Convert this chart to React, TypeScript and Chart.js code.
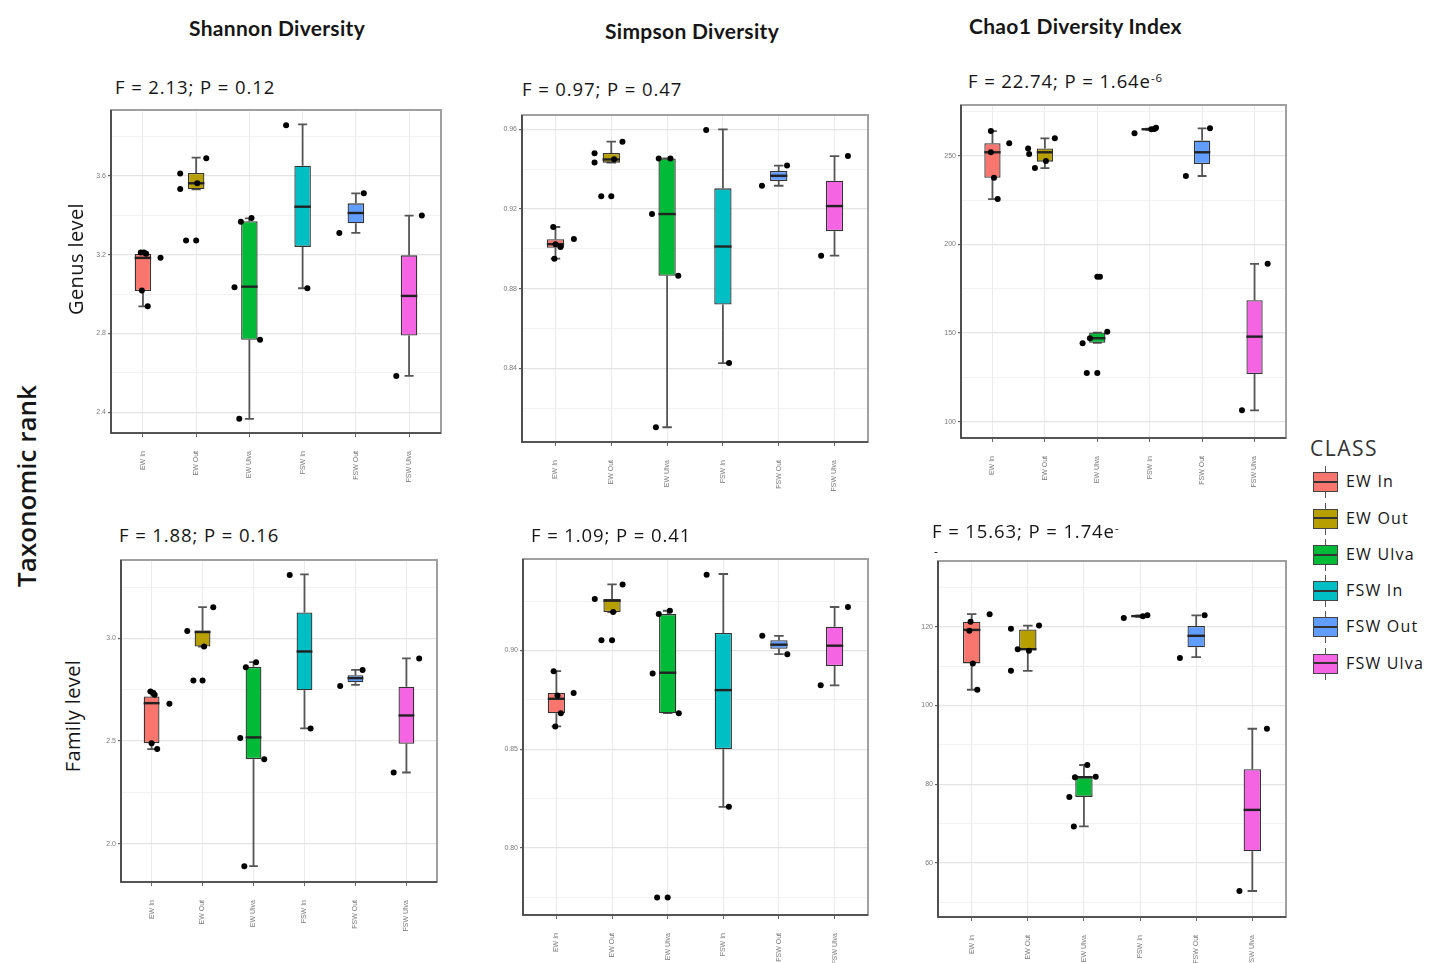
import React, { useEffect, useRef } from 'react';
import { Chart, registerables } from 'chart.js';

Chart.register(...registerables);

// ---------- shared categories ----------
const CLASSES = ['EW In', 'EW Out', 'EW Ulva', 'FSW In', 'FSW Out', 'FSW Ulva'];
const CLASS_COLORS = ['#F8766D', '#B79F00', '#00BA38', '#00BFC4', '#619CFF', '#F564E3'];

// ---------- text ----------
const COLUMN_TITLES = ['Shannon Diversity', 'Simpson Diversity', 'Chao1 Diversity Index'];
const ROW_TITLES = ['Genus level', 'Family level'];
const SIDE_TITLE = 'Taxonomic rank';
const LEGEND_TITLE = 'CLASS';

// ---------- Shannon, genus ----------
const shannonGenusQ1 = [3.016, 3.532, 2.768, 3.24, 3.36, 2.79];
const shannonGenusMedian = [3.184, 3.563, 3.038, 3.444, 3.412, 2.991];
const shannonGenusQ3 = [3.204, 3.615, 3.37, 3.652, 3.461, 3.197];
const shannonGenusLow = [2.938, 3.532, 2.367, 3.03, 3.311, 2.585];
const shannonGenusHigh = [3.21, 3.693, 3.385, 3.862, 3.512, 3.399];
const shannonGenusPoints = [
  [3.212, 3.211, 3.205, 3.185, 3.018, 2.938],
  [3.612, 3.534, 3.563, 3.69, 3.272, 3.272],
  [3.368, 3.387, 3.035, 2.768, 2.367],
  [3.857, 3.03],
  [3.311, 3.512],
  [2.585, 3.399],
];
const shannonGenusJitter = [
  [-0.04, 0.02, 0.06, 0.33, -0.02, 0.09],
  [-0.3, -0.3, 0.02, 0.19, -0.19, 0],
  [-0.16, 0.04, -0.28, 0.2, -0.19],
  [-0.31, 0.09],
  [-0.31, 0.15],
  [-0.24, 0.24],
];
const shannonGenusMajor = [2.4, 2.8, 3.2, 3.6];
const shannonGenusMinor = [2.6, 3.0, 3.4, 3.8];
const shannonGenusStat = 'F = 2.13; P = 0.12';

// ---------- Simpson, genus ----------
const simpsonGenusQ1 = [0.9006, 0.9433, 0.8865, 0.8721, 0.9341, 0.9089];
const simpsonGenusMedian = [0.9024, 0.9449, 0.9175, 0.9012, 0.9367, 0.9215];
const simpsonGenusQ3 = [0.9049, 0.9481, 0.9454, 0.9304, 0.9391, 0.9342];
const simpsonGenusLow = [0.8951, 0.9433, 0.8105, 0.8427, 0.9317, 0.8966];
const simpsonGenusHigh = [0.911, 0.9538, 0.9454, 0.96, 0.9418, 0.9466];
const simpsonGenusPoints = [
  [0.911, 0.9024, 0.901, 0.905, 0.895],
  [0.948, 0.9434, 0.945, 0.9538, 0.9264, 0.9264],
  [0.9454, 0.9454, 0.9175, 0.8865, 0.8105],
  [0.9597, 0.8427],
  [0.9317, 0.9418],
  [0.8966, 0.9466],
];
const simpsonGenusJitter = [
  [-0.04, 0.0, 0.09, 0.33, -0.02],
  [-0.3, -0.3, 0.05, 0.2, -0.18, 0],
  [-0.15, 0.06, -0.27, 0.2, -0.2],
  [-0.3, 0.11],
  [-0.3, 0.15],
  [-0.24, 0.24],
];
const simpsonGenusMajor = [0.84, 0.88, 0.92, 0.96];
const simpsonGenusMinor = [0.82, 0.86, 0.9, 0.94];
const simpsonGenusStat = 'F = 0.97; P = 0.47';

// ---------- Chao1, genus ----------
const chaoGenusQ1 = [237.7, 246.8, 144.5, 264.7, 245.5, 126.9];
const chaoGenusMedian = [252.1, 252.1, 147.1, 265.1, 252.1, 148.0];
const chaoGenusQ3 = [257.2, 254.3, 150.3, 265.5, 258.7, 168.6];
const chaoGenusLow = [225.7, 243.2, 144.5, 264.7, 238.7, 106.4];
const chaoGenusHigh = [264.1, 260.0, 150.3, 265.5, 265.6, 189.1];
const chaoGenusPoints = [
  [252.1, 237.7, 225.7, 257.2, 264.1],
  [254.3, 251.1, 247.2, 243.2, 260.0],
  [144.3, 147.1, 150.7, 181.8, 181.8, 127.5, 127.5],
  [262.8, 265.1, 265.3, 266.0],
  [238.7, 265.6],
  [106.4, 189.1],
];
const chaoGenusJitter = [
  [-0.03, 0.03, 0.1, 0.32, -0.03],
  [-0.32, -0.3, 0.02, -0.19, 0.19],
  [-0.28, -0.14, 0.19, 0, 0.05, -0.2, 0],
  [-0.29, 0.03, 0.09, 0.12],
  [-0.31, 0.15],
  [-0.24, 0.25],
];
const chaoGenusMajor = [100, 150, 200, 250];
const chaoGenusMinor = [125, 175, 225, 275];
const chaoGenusStat = 'F = 22.74; P = 1.64e';
const chaoGenusStatSup = '-6';

// ---------- Shannon, family ----------
const shannonFamilyQ1 = [2.49, 2.961, 2.412, 2.748, 2.787, 2.487];
const shannonFamilyMedian = [2.685, 3.032, 2.518, 2.937, 2.807, 2.625];
const shannonFamilyQ3 = [2.718, 3.039, 2.862, 3.127, 2.821, 2.765];
const shannonFamilyLow = [2.461, 2.961, 1.89, 2.562, 2.774, 2.347];
const shannonFamilyHigh = [2.742, 3.153, 2.885, 3.313, 2.847, 2.903];
const shannonFamilyPoints = [
  [2.742, 2.734, 2.726, 2.682, 2.49, 2.461],
  [3.037, 2.961, 3.153, 2.795, 2.795],
  [2.86, 2.885, 2.515, 2.412, 1.89],
  [3.31, 2.562],
  [2.769, 2.847],
  [2.347, 2.903],
];
const shannonFamilyJitter = [
  [-0.02, 0.03, 0.06, 0.35, 0, 0.11],
  [-0.3, 0.03, 0.21, -0.18, 0],
  [-0.15, 0.05, -0.26, 0.21, -0.18],
  [-0.29, 0.12],
  [-0.3, 0.14],
  [-0.25, 0.25],
];
const shannonFamilyMajor = [2.0, 2.5, 3.0];
const shannonFamilyMinor = [2.25, 2.75, 3.25];
const shannonFamilyStat = 'F = 1.88; P = 0.16';

// ---------- Simpson, family ----------
const simpsonFamilyQ1 = [0.8682, 0.9194, 0.8682, 0.85, 0.9008, 0.8921];
const simpsonFamilyMedian = [0.8755, 0.9252, 0.8887, 0.8799, 0.9029, 0.9024];
const simpsonFamilyQ3 = [0.8784, 0.926, 0.9184, 0.9088, 0.9052, 0.912];
const simpsonFamilyLow = [0.8615, 0.9194, 0.8682, 0.8208, 0.8981, 0.8823];
const simpsonFamilyHigh = [0.8895, 0.9334, 0.9201, 0.9387, 0.9074, 0.922];
const simpsonFamilyPoints = [
  [0.8895, 0.8772, 0.8682, 0.8784, 0.8615],
  [0.926, 0.9194, 0.9334, 0.9052, 0.9052],
  [0.9184, 0.9201, 0.8883, 0.8682, 0.7748, 0.7748],
  [0.9383, 0.8208],
  [0.9074, 0.8981],
  [0.8823, 0.922],
];
const simpsonFamilyJitter = [
  [-0.05, 0.02, 0.08, 0.31, -0.02],
  [-0.31, 0.02, 0.19, -0.19, 0],
  [-0.16, 0.04, -0.27, 0.2, -0.19, 0],
  [-0.3, 0.1],
  [-0.3, 0.15],
  [-0.25, 0.24],
];
const simpsonFamilyMajor = [0.8, 0.85, 0.9];
const simpsonFamilyMinor = [0.775, 0.825, 0.875, 0.925];
const simpsonFamilyStat = 'F = 1.09; P = 0.41';

// ---------- Chao1, family ----------
const chaoFamilyQ1 = [110.7, 114.1, 76.8, 122.5, 114.8, 63.0];
const chaoFamilyMedian = [119.2, 114.3, 81.8, 122.7, 117.7, 73.5];
const chaoFamilyQ3 = [121.3, 119.3, 81.8, 122.9, 120.2, 83.8];
const chaoFamilyLow = [104.0, 108.8, 69.3, 122.5, 112.3, 52.9];
const chaoFamilyHigh = [123.2, 120.3, 84.9, 122.9, 122.9, 94.1];
const chaoFamilyPoints = [
  [121.3, 119.0, 110.7, 104.0, 123.2],
  [119.5, 114.3, 113.9, 120.3, 108.8],
  [81.8, 84.9, 81.9, 76.8, 69.3],
  [122.2, 122.9, 122.7],
  [112.1, 122.9],
  [52.9, 94.1],
];
const chaoFamilyJitter = [
  [-0.02, -0.04, 0.02, 0.1, 0.32],
  [-0.3, -0.18, 0.02, 0.2, -0.3],
  [-0.16, 0.06, 0.21, -0.26, -0.18],
  [-0.29, 0.13, 0.05],
  [-0.29, 0.15],
  [-0.23, 0.26],
];
const chaoFamilyMajor = [60, 80, 100, 120];
const chaoFamilyMinor = [50, 70, 90, 110, 130];
const chaoFamilyStat = 'F = 15.63; P = 1.74e';
const chaoFamilyStatSup = '-';

// ---------- layout constants ----------
const YW = 26;
const PT = 8;
const PR = 8;
const XH = 60;
const LATO = 'Lato, "Noto Sans", sans-serif';
const OPEN = '"Open Sans", "Noto Sans", sans-serif';

type Spec = {
  rect: [number, number, number, number];
  yMin: number;
  yMax: number;
  major: number[];
  minor: number[];
  decimals: number;
  q1: number[];
  median: number[];
  q3: number[];
  low: number[];
  high: number[];
  points: number[][];
  jitter: number[][];
};

const PANELS: Spec[] = [
  { rect: [111, 110, 441, 433], yMin: 2.295, yMax: 3.935, major: shannonGenusMajor, minor: shannonGenusMinor, decimals: 1,
    q1: shannonGenusQ1, median: shannonGenusMedian, q3: shannonGenusQ3, low: shannonGenusLow, high: shannonGenusHigh,
    points: shannonGenusPoints, jitter: shannonGenusJitter },
  { rect: [522, 115, 868, 442], yMin: 0.8031, yMax: 0.9672, major: simpsonGenusMajor, minor: simpsonGenusMinor, decimals: 2,
    q1: simpsonGenusQ1, median: simpsonGenusMedian, q3: simpsonGenusQ3, low: simpsonGenusLow, high: simpsonGenusHigh,
    points: simpsonGenusPoints, jitter: simpsonGenusJitter },
  { rect: [961, 105, 1286, 438], yMin: 90.75, yMax: 278.8, major: chaoGenusMajor, minor: chaoGenusMinor, decimals: 0,
    q1: chaoGenusQ1, median: chaoGenusMedian, q3: chaoGenusQ3, low: chaoGenusLow, high: chaoGenusHigh,
    points: chaoGenusPoints, jitter: chaoGenusJitter },
  { rect: [121, 560, 437, 882], yMin: 1.813, yMax: 3.383, major: shannonFamilyMajor, minor: shannonFamilyMinor, decimals: 1,
    q1: shannonFamilyQ1, median: shannonFamilyMedian, q3: shannonFamilyQ3, low: shannonFamilyLow, high: shannonFamilyHigh,
    points: shannonFamilyPoints, jitter: shannonFamilyJitter },
  { rect: [523, 559, 868, 915], yMin: 0.766, yMax: 0.9463, major: simpsonFamilyMajor, minor: simpsonFamilyMinor, decimals: 2,
    q1: simpsonFamilyQ1, median: simpsonFamilyMedian, q3: simpsonFamilyQ3, low: simpsonFamilyLow, high: simpsonFamilyHigh,
    points: simpsonFamilyPoints, jitter: simpsonFamilyJitter },
  { rect: [938, 561, 1286, 917], yMin: 46.3, yMax: 136.7, major: chaoFamilyMajor, minor: chaoFamilyMinor, decimals: 0,
    q1: chaoFamilyQ1, median: chaoFamilyMedian, q3: chaoFamilyQ3, low: chaoFamilyLow, high: chaoFamilyHigh,
    points: chaoFamilyPoints, jitter: chaoFamilyJitter },
];

const isIn = (arr: number[], v: number) => arr.some((a) => Math.abs(a - v) < 1e-9);

const boxPlugin = {
  id: 'boxWhisker',
  beforeDatasetsDraw(chart: any, _args: any, opts: any) {
    const { ctx, scales } = chart;
    const x = scales.x;
    const y = scales.y;
    const cap = x.getPixelForValue(1.085) - x.getPixelForValue(1);
    ctx.save();
    ctx.strokeStyle = '#555';
    ctx.lineWidth = 1.8;
    opts.low.forEach((lo: number, i: number) => {
      const px = x.getPixelForValue(i + 1);
      const yLo = y.getPixelForValue(lo);
      const yHi = y.getPixelForValue(opts.high[i]);
      ctx.beginPath();
      ctx.moveTo(px, yLo);
      ctx.lineTo(px, y.getPixelForValue(opts.q1[i]));
      ctx.moveTo(px, y.getPixelForValue(opts.q3[i]));
      ctx.lineTo(px, yHi);
      ctx.moveTo(px - cap, yLo);
      ctx.lineTo(px + cap, yLo);
      ctx.moveTo(px - cap, yHi);
      ctx.lineTo(px + cap, yHi);
      ctx.stroke();
    });
    ctx.restore();
  },
  afterDatasetDraw(chart: any, args: any, opts: any) {
    if (args.index !== 0) return;
    const { ctx, scales } = chart;
    const y = scales.y;
    const meta = chart.getDatasetMeta(0);
    ctx.save();
    ctx.strokeStyle = '#222';
    ctx.lineWidth = 2.4;
    meta.data.forEach((el: any, i: number) => {
      const py = y.getPixelForValue(opts.median[i]);
      ctx.beginPath();
      ctx.moveTo(el.x - el.width / 2, py);
      ctx.lineTo(el.x + el.width / 2, py);
      ctx.stroke();
    });
    ctx.restore();
  },
  afterDatasetsDraw(chart: any) {
    const { ctx, chartArea: a } = chart;
    ctx.save();
    ctx.strokeStyle = '#a0a0a0';
    ctx.lineWidth = 2;
    ctx.strokeRect(a.left, a.top, a.right - a.left, a.bottom - a.top);
    ctx.strokeStyle = '#3c3c3c';
    ctx.lineWidth = 1.6;
    ctx.beginPath();
    ctx.moveTo(a.left, a.top);
    ctx.lineTo(a.left, a.bottom);
    ctx.lineTo(a.right, a.bottom);
    ctx.stroke();
    ctx.restore();
  },
};

function BoxPanel({ spec }: { spec: Spec }) {
  const ref = useRef<HTMLCanvasElement>(null);
  const [L, T, R, B] = spec.rect;
  const w = R - L + YW + PR;
  const h = B - T + PT + XH;
  useEffect(() => {
    const yTicks = [...spec.major, ...spec.minor].sort((a, b) => a - b);
    const pointData = spec.points.flatMap((vals, i) =>
      vals.map((v, k) => ({ x: i + 1 + spec.jitter[i][k], y: v }))
    );
    const chart = new Chart(ref.current as HTMLCanvasElement, {
      type: 'bar',
      data: {
        datasets: [
          {
            type: 'bar',
            data: CLASSES.map((_, i) => ({ x: i + 1, y: [spec.q1[i], spec.q3[i]] })) as any,
            backgroundColor: CLASS_COLORS,
            borderColor: '#333',
            borderWidth: 1.3,
            borderSkipped: false,
            barPercentage: 0.31,
            categoryPercentage: 1,
            order: 2,
          },
          {
            type: 'scatter',
            data: pointData as any,
            backgroundColor: '#000',
            borderWidth: 0,
            pointRadius: 3,
            order: 1,
          } as any,
        ],
      },
      options: {
        responsive: false,
        animation: false,
        events: [],
        layout: { padding: { top: PT, right: PR, left: 0, bottom: 0 } },
        plugins: {
          legend: { display: false },
          tooltip: { enabled: false },
          boxWhisker: { low: spec.low, high: spec.high, q1: spec.q1, q3: spec.q3, median: spec.median },
        } as any,
        scales: {
          x: {
            type: 'linear',
            min: 0.4,
            max: 6.6,
            bounds: 'data',
            offset: false,
            afterBuildTicks: (s: any) => {
              s.ticks = CLASSES.map((_, i) => ({ value: i + 1 }));
            },
            afterFit: (s: any) => {
              s.height = XH;
            },
            ticks: {
              autoSkip: false,
              minRotation: 90,
              maxRotation: 90,
              padding: 14,
              color: '#7a7a7a',
              font: { size: 7, family: 'Liberation Sans' },
              callback: (v: any) => CLASSES[Math.round(Number(v)) - 1],
            },
            grid: { color: '#ebebeb', lineWidth: 1, tickColor: '#666', tickLength: 4, offset: false },
            border: { display: false },
          },
          y: {
            type: 'linear',
            min: spec.yMin,
            max: spec.yMax,
            bounds: 'data',
            afterBuildTicks: (s: any) => {
              s.ticks = yTicks.map((v) => ({ value: v }));
            },
            afterFit: (s: any) => {
              s.width = YW;
            },
            ticks: {
              padding: 2,
              color: '#7a7a7a',
              font: { size: 7, family: 'Liberation Sans' },
              callback: (v: any) => (isIn(spec.major, Number(v)) ? Number(v).toFixed(spec.decimals) : ''),
            },
            grid: {
              color: (c: any) => (c.tick && isIn(spec.major, c.tick.value) ? '#e4e4e4' : '#efefef'),
              lineWidth: (c: any) => (c.tick && isIn(spec.major, c.tick.value) ? 1.2 : 0.8),
              tickColor: (c: any) => (c.tick && isIn(spec.major, c.tick.value) ? '#666' : 'rgba(0,0,0,0)'),
              tickLength: 3,
            },
            border: { display: false },
          },
        },
      } as any,
      plugins: [boxPlugin as any],
    });
    return () => chart.destroy();
  }, [spec]);
  return (
    <canvas
      ref={ref}
      width={w}
      height={h}
      style={{ position: 'absolute', left: L - YW, top: T - PT, width: w, height: h }}
    />
  );
}

function Txt({ left, baseline, size, weight = 400, family = OPEN, spacing = 0, color = '#161616', children }: any) {
  return (
    <div
      style={{
        position: 'absolute',
        left,
        top: baseline - 0.888 * size,
        fontSize: size,
        lineHeight: 1,
        fontFamily: family,
        fontWeight: weight,
        letterSpacing: spacing,
        whiteSpace: 'nowrap',
        color,
      }}
    >
      {children}
    </div>
  );
}

function RotTxt({ cx, cy, size, weight = 400, spacing = 0, children }: any) {
  return (
    <div
      style={{
        position: 'absolute',
        left: cx,
        top: cy,
        transform: 'translate(-50%, -50%) rotate(-90deg)',
        fontSize: size,
        lineHeight: 1,
        fontFamily: OPEN,
        fontWeight: weight,
        letterSpacing: spacing,
        whiteSpace: 'nowrap',
        color: '#161616',
      }}
    >
      {children}
    </div>
  );
}

const Sup = ({ children }: any) => (
  <span style={{ position: 'relative', top: '-0.45em', fontSize: '0.62em', lineHeight: 0 }}>{children}</span>
);

const LEGEND_CENTERS = [482, 518.5, 555, 591, 627, 663.5];
const STAT_SIZE = 18.5;
const STAT_SPACING = 0.9;

export default function App() {
  return (
    <div
      style={{
        position: 'absolute',
        left: 0,
        top: 0,
        width: 1429,
        height: 963,
        background: '#fff',
        overflow: 'hidden',
      }}
    >
      {PANELS.map((p, i) => (
        <BoxPanel key={i} spec={p} />
      ))}

      <Txt left={189} baseline={36} size={21} weight={700} family={LATO} spacing={0.3}>{COLUMN_TITLES[0]}</Txt>
      <Txt left={605} baseline={39} size={21} weight={700} family={LATO} spacing={0.3}>{COLUMN_TITLES[1]}</Txt>
      <Txt left={969} baseline={34} size={21} weight={700} family={LATO} spacing={0.3}>{COLUMN_TITLES[2]}</Txt>

      <Txt left={115} baseline={94} size={STAT_SIZE} spacing={STAT_SPACING}>{shannonGenusStat}</Txt>
      <Txt left={522} baseline={96} size={STAT_SIZE} spacing={STAT_SPACING}>{simpsonGenusStat}</Txt>
      <Txt left={968} baseline={88} size={STAT_SIZE} spacing={STAT_SPACING}>
        {chaoGenusStat}
        <Sup>{chaoGenusStatSup}</Sup>
      </Txt>
      <Txt left={119} baseline={542} size={STAT_SIZE} spacing={STAT_SPACING}>{shannonFamilyStat}</Txt>
      <Txt left={531} baseline={542} size={STAT_SIZE} spacing={STAT_SPACING}>{simpsonFamilyStat}</Txt>
      <Txt left={932} baseline={538} size={STAT_SIZE} spacing={STAT_SPACING}>
        {chaoFamilyStat}
        <Sup>{chaoFamilyStatSup}</Sup>
      </Txt>
      <Txt left={934} baseline={557} size={12}>-</Txt>

      <RotTxt cx={26} cy={486} size={26} weight={600}>{SIDE_TITLE}</RotTxt>
      <RotTxt cx={76} cy={259} size={20} spacing={0.4}>{ROW_TITLES[0]}</RotTxt>
      <RotTxt cx={73} cy={716} size={20} spacing={0.4}>{ROW_TITLES[1]}</RotTxt>

      <Txt left={1310} baseline={457} size={21} spacing={1.5} color="#333">{LEGEND_TITLE}</Txt>
      {CLASSES.map((c, i) => {
        const cy = LEGEND_CENTERS[i];
        return (
          <React.Fragment key={c}>
            <div style={{ position: 'absolute', left: 1324.5, top: cy - 16, width: 1.5, height: 32, background: '#555' }} />
            <div
              style={{
                position: 'absolute',
                left: 1313,
                top: cy - 10,
                width: 25,
                height: 20,
                boxSizing: 'border-box',
                border: '1.5px solid #444',
                background: CLASS_COLORS[i],
              }}
            >
              <div style={{ position: 'absolute', left: 0, right: 0, top: 7.5, height: 2, background: '#333' }} />
            </div>
            <Txt left={1346} baseline={cy + 5.5} size={16} spacing={1.2}>{c}</Txt>
          </React.Fragment>
        );
      })}
    </div>
  );
}
